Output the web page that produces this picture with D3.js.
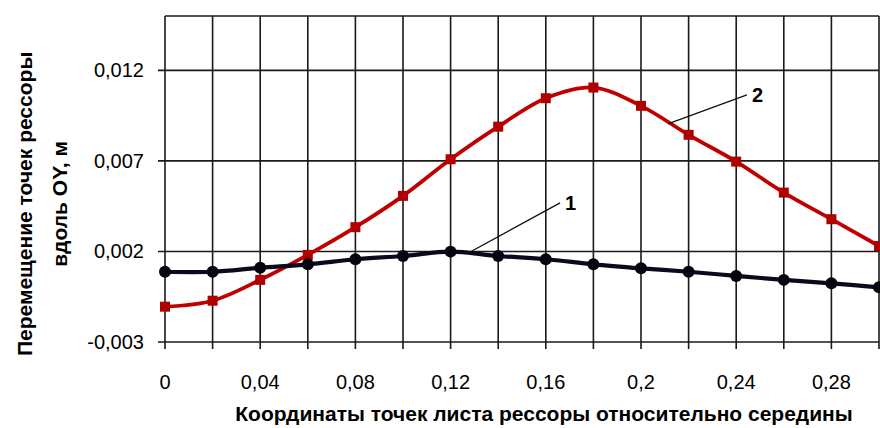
<!DOCTYPE html>
<html lang="ru">
  <head>
    <meta charset="utf-8"/>
    <script src="https://d3js.org/d3.v7.min.js"></script>
    <title>Перемещение точек рессоры</title>
  </head>
  <body style="margin:0;background:#fff">
    <div id="chart"></div>
  </body>
</html>

<script>
  const width = 880;
  const height = 428;
  const margin = {top: 16, right: 1, bottom: 86, left: 165};

  // данные
  const xValues = [0, 0.02, 0.04, 0.06, 0.08, 0.10, 0.12, 0.14, 0.16, 0.18, 0.20, 0.22, 0.24, 0.26, 0.28, 0.30];
  const series1 = [0.00088, 0.00088, 0.00110, 0.00129, 0.00157, 0.00175, 0.00199, 0.00175, 0.00157, 0.00129, 0.00107, 0.00088, 0.00065, 0.00043, 0.00024, 0.00002];
  const series2 = [-0.00105, -0.00072, 0.00043, 0.00181, 0.00334, 0.00507, 0.00709, 0.00889, 0.01046, 0.01105, 0.01004, 0.00844, 0.00696, 0.00525, 0.00378, 0.00230];
  const yTicks = [-0.003, 0.002, 0.007, 0.012];
  const xLabelTicks = [0, 0.04, 0.08, 0.12, 0.16, 0.2, 0.24, 0.28];
  const xGridTicks = xValues;
  // подписи кривых: [точка на кривой, конец выноски]
  const callouts = [
    {label: "1", from: [0.1282, 0.00197], to: [0.166, 0.00468]},
    {label: "2", from: [0.2113, 0.00904], to: [0.2445, 0.01065]}
  ];

  const fmt = (v) => String(+v.toFixed(3)).replace(".", ",");

  const svg = d3.select("#chart")
    .append("svg")
    .attr("width", width)
    .attr("height", height)
    .style("font-family", "'Liberation Sans', Arial, sans-serif");

  const x = d3.scaleLinear()
    .domain([0, 0.30])
    .range([margin.left, width - margin.right]);

  const y = d3.scaleLinear()
    .domain([-0.003, 0.015])
    .range([height - margin.bottom, margin.top]);

  // сетка
  svg.append("g")
    .selectAll("line")
    .data(xGridTicks)
    .join("line")
    .attr("x1", d => x(d)).attr("x2", d => x(d))
    .attr("y1", y(0.015)).attr("y2", y(-0.003) + 7)
    .attr("stroke", "#1a1a1a")
    .attr("stroke-width", 1.6);

  svg.append("g")
    .selectAll("line")
    .data(yTicks.concat([0.015]))
    .join("line")
    .attr("x1", d => d === 0.015 ? x(0) : x(0) - 7).attr("x2", x(0.30))
    .attr("y1", d => y(d)).attr("y2", d => y(d))
    .attr("stroke", "#1a1a1a")
    .attr("stroke-width", 1.6);

  // подписи осей
  svg.append("g")
    .selectAll("text")
    .data(yTicks)
    .join("text")
    .attr("x", x(0) - 21)
    .attr("y", d => y(d))
    .attr("dy", "0.35em")
    .attr("text-anchor", "end")
    .attr("font-size", 20)
    .text(fmt);

  svg.append("g")
    .selectAll("text")
    .data(xLabelTicks)
    .join("text")
    .attr("x", d => x(d))
    .attr("y", y(-0.003) + 47)
    .attr("text-anchor", "middle")
    .attr("font-size", 20)
    .text(fmt);

  svg.append("text")
    .attr("x", (x(0) + x(0.30)) / 2 + 22)
    .attr("y", height - 7)
    .attr("text-anchor", "middle")
    .attr("font-size", 21)
    .attr("font-weight", "bold")
    .text("Координаты точек листа рессоры относительно  середины");

  const yTitle = svg.append("text")
    .attr("transform", "translate(25," + (y(0.007) + 43) + ") rotate(-90)")
    .attr("text-anchor", "middle")
    .attr("font-size", 21)
    .attr("font-weight", "bold");
  yTitle.append("tspan").attr("x", 0).attr("dy", "0.35em").text("Перемещение точек рессоры");
  yTitle.append("tspan").attr("x", 0).attr("dy", "1.67em").text("вдоль OY, м");

  // кривые
  const line = d3.line()
    .x((d, i) => x(xValues[i]))
    .y(d => y(d))
    .curve(d3.curveCatmullRom.alpha(0.5));

  svg.append("path")
    .datum(series2)
    .attr("fill", "none")
    .attr("stroke", "#c00000")
    .attr("stroke-width", 3.8)
    .attr("d", line);

  svg.append("g")
    .selectAll("rect")
    .data(series2)
    .join("rect")
    .attr("x", (d, i) => x(xValues[i]) - 5)
    .attr("y", d => y(d) - 5)
    .attr("width", 10)
    .attr("height", 10)
    .attr("fill", "#b00000");

  svg.append("path")
    .datum(series1)
    .attr("fill", "none")
    .attr("stroke", "#0a0a1e")
    .attr("stroke-width", 4.2)
    .attr("d", line);

  svg.append("g")
    .selectAll("circle")
    .data(series1)
    .join("circle")
    .attr("cx", (d, i) => x(xValues[i]))
    .attr("cy", d => y(d))
    .attr("r", 6)
    .attr("fill", "#05050f");

  // выноски
  const c = svg.append("g");
  c.selectAll("line")
    .data(callouts)
    .join("line")
    .attr("x1", d => x(d.from[0])).attr("y1", d => y(d.from[1]))
    .attr("x2", d => x(d.to[0])).attr("y2", d => y(d.to[1]))
    .attr("stroke", "#111")
    .attr("stroke-width", 1.3);
  c.selectAll("text")
    .data(callouts)
    .join("text")
    .attr("x", d => x(d.to[0]) + 5)
    .attr("y", d => y(d.to[1]))
    .attr("dy", "0.35em")
    .attr("font-size", 20)
    .attr("font-weight", "bold")
    .text(d => d.label);
</script>
